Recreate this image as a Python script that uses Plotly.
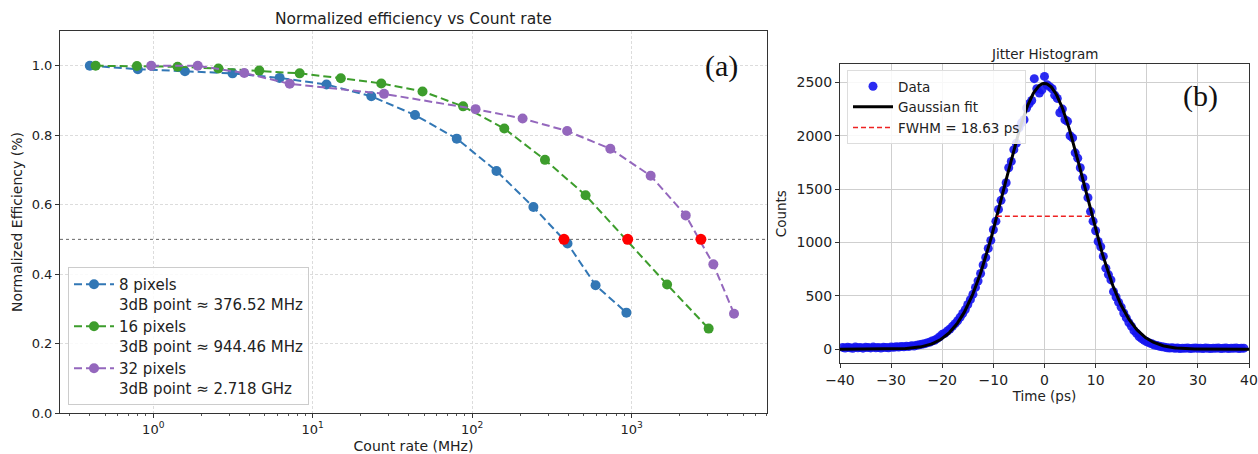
import math
import plotly.graph_objects as go

# ---------------- Panel (a) data ----------------
rate_8 = [0.40, 0.80, 1.58, 3.14, 6.2, 12.2, 23.3, 43.8, 80, 142, 242, 396, 594, 927]
eff_8 = [1.0, 0.990, 0.984, 0.978, 0.965, 0.946, 0.912, 0.858, 0.790, 0.697, 0.593, 0.488, 0.368, 0.289]

rate_16 = [0.435, 0.79, 1.42, 2.56, 4.62, 8.28, 15.0, 26.9, 48.8, 87.7, 159, 286, 514, 1668, 3040]
eff_16 = [1.0, 0.999, 0.997, 0.992, 0.986, 0.978, 0.964, 0.949, 0.926, 0.883, 0.819, 0.729, 0.627, 0.370, 0.243]

rate_32 = [0.97, 1.90, 3.72, 7.17, 28, 105, 207, 394, 735, 1316, 2183, 3253, 4385]
eff_32 = [1.0, 1.0, 0.979, 0.948, 0.919, 0.875, 0.848, 0.812, 0.761, 0.683, 0.569, 0.428, 0.286]

db3_rates = [376.52, 944.46, 2718.0]
db3_eff = [0.5, 0.5, 0.5]

labels_a = ["8 pixels<br>3dB point ≈ 376.52 MHz",
            "16 pixels<br>3dB point ≈ 944.46 MHz",
            "32 pixels<br>3dB point ≈ 2.718 GHz"]
x_tickvals = [1, 10, 100, 1000]
x_ticktext = ["10<sup>0</sup>", "10<sup>1</sup>", "10<sup>2</sup>", "10<sup>3</sup>"]
x_minor_decades = [0.1, 1, 10, 100, 1000]
x_minor_digits = [2, 3, 4, 5, 6, 7, 8, 9]
y_tickvals_a = [0.0, 0.2, 0.4, 0.6, 0.8, 1.0]

# ---------------- Panel (b) data ----------------
time_start = -39.5
time_step = 0.5
counts = [
    # -39.5 .. -30.0
    18, 12, 20, 15, 9, 22, 14, 17, 11, 19, 16, 13, 21, 15, 18, 12, 20, 17, 14, 22,
    # -29.5 .. -25.0
    19, 24, 21, 26, 23, 29, 27, 33, 31, 38,
    # -24.5 .. -20.0
    42, 47, 52, 60, 66, 78, 85, 100, 118, 140,
    # -19.5 .. -15.0
    150, 172, 190, 215, 240, 268, 300, 335, 372, 420,
    # -14.5 .. -10.0
    465, 515, 580, 640, 710, 790, 860, 945, 1020, 1120,
    # -9.5 .. -5.0
    1200, 1310, 1395, 1490, 1560, 1700, 1760, 1870, 1930, 2075,
    # -4.5 .. -0.5
    2120, 2150, 2260, 2300, 2330, 2535, 2440, 2400, 2430,
    # 0.0 .. 4.5
    2556, 2478, 2460, 2440, 2380, 2350, 2215, 2250, 2150, 2135,
    # 5.0 .. 9.5
    2000, 1980, 1840, 1790, 1700, 1605, 1520, 1420, 1290, 1200,
    # 10.0 .. 14.5
    1110, 1010, 960, 870, 760, 700, 650, 540, 490, 440,
    # 15.0 .. 19.5
    395, 340, 295, 250, 215, 175, 150, 120, 100, 85,
    # 20.0 .. 24.5
    70, 60, 52, 40, 35, 28, 24, 20, 15, 12,
    # 25.0 .. 29.5
    14, 10, 12, 8, 11, 9, 13, 7, 10, 12,
    # 30.0 .. 34.5
    9, 11, 8, 12, 10, 7, 11, 9, 13, 8,
    # 35.0 .. 39.0
    10, 12, 7, 11, 9, 13, 8, 10, 11,
]
times = [time_start + time_step * i for i in range(len(counts))]

fit_amplitude = 2490.0
fit_center = 0.0
fwhm = 18.63
fit_times = [-40 + 0.2 * i for i in range(401)]

# ---------------- Figure ----------------
fig = go.Figure()

colors_a = ["#3277b5", "#3d9d2c", "#9467bd"]
for rx, ey, lab, col in zip([rate_8, rate_16, rate_32], [eff_8, eff_16, eff_32], labels_a, colors_a):
    fig.add_trace(go.Scatter(
        x=rx, y=ey, mode="lines+markers", name=lab,
        line=dict(color=col, width=2, dash="8px,4px"),
        marker=dict(color=col, size=10),
        xaxis="x", yaxis="y", legend="legend"))

fig.add_trace(go.Scatter(
    x=db3_rates, y=db3_eff, mode="markers", showlegend=False,
    marker=dict(color="#ff0000", size=11), xaxis="x", yaxis="y"))

fit_sigma = fwhm / (2 * math.sqrt(2 * math.log(2)))
fit_counts = [fit_amplitude * math.exp(-((t - fit_center) ** 2) / (2 * fit_sigma ** 2)) for t in fit_times]

fig.add_trace(go.Scatter(
    x=times, y=counts, mode="markers", name="Data",
    marker=dict(color="rgba(20,20,240,0.9)", size=9),
    xaxis="x2", yaxis="y2", legend="legend2"))
fig.add_trace(go.Scatter(
    x=fit_times, y=fit_counts, mode="lines", name="Gaussian fit",
    line=dict(color="black", width=3),
    xaxis="x2", yaxis="y2", legend="legend2"))
fig.add_trace(go.Scatter(
    x=[fit_center - fwhm / 2, fit_center + fwhm / 2],
    y=[fit_amplitude / 2, fit_amplitude / 2],
    mode="lines", name=f"FWHM = {fwhm:.2f} ps",
    line=dict(color="#ee2222", width=1.5, dash="5px,3px"),
    xaxis="x2", yaxis="y2", legend="legend2"))

W, H = 1258, 454
font_main = "DejaVu Sans"


def axis_common(size):
    return dict(showline=True, linecolor="#333333", linewidth=1, mirror=True,
                ticks="outside", ticklen=4, tickcolor="#333333", zeroline=False,
                automargin=False,
                tickfont=dict(family=font_main, size=size, color="#222"))


minor_vals = [d * m for d in x_minor_decades for m in x_minor_digits]

fig.update_layout(
    width=W, height=H,
    margin=dict(l=0, r=0, t=0, b=0),
    paper_bgcolor="white", plot_bgcolor="white",
    font=dict(family=font_main, color="#222"),
    xaxis=dict(domain=[60 / W, 767 / W], type="log",
               range=[math.log10(0.26), math.log10(7060)],
               tickvals=x_tickvals, ticktext=x_ticktext,
               showgrid=True, gridcolor="#dcdcdc", griddash="3px,2px", gridwidth=1,
               minor=dict(tickmode="array", tickvals=minor_vals, ticks="outside",
                          ticklen=2, tickcolor="#555", showgrid=False),
               title=dict(text="Count rate (MHz)", font=dict(size=14), standoff=6),
               anchor="y", **axis_common(13)),
    yaxis=dict(domain=[1 - 413 / H, 1 - 31 / H], range=[0, 1.1],
               tickvals=y_tickvals_a, tickformat=".1f",
               showgrid=True, gridcolor="#dcdcdc", griddash="3px,2px", gridwidth=1,
               title=dict(text="Normalized Efficiency (%)", font=dict(size=14), standoff=5),
               anchor="x", **axis_common(13)),
    xaxis2=dict(domain=[840 / W, 1249 / W], range=[-40, 40],
                tickvals=[-40, -30, -20, -10, 0, 10, 20, 30, 40],
                showgrid=True, gridcolor="#cfcfcf", gridwidth=1,
                title=dict(text="Time (ps)", font=dict(size=13.5), standoff=4),
                anchor="y2", **axis_common(14)),
    yaxis2=dict(domain=[1 - 363.3 / H, 1 - 64 / H], range=[-131, 2672],
                tickvals=[0, 500, 1000, 1500, 2000, 2500],
                showgrid=True, gridcolor="#cfcfcf", gridwidth=1,
                title=dict(text="Counts", font=dict(size=13.5), standoff=6),
                anchor="x2", **axis_common(14)),
    legend=dict(x=68 / W, y=1 - 405 / H, xanchor="left", yanchor="bottom",
                bgcolor="rgba(255,255,255,0.85)", bordercolor="#cccccc", borderwidth=1,
                font=dict(size=15, family=font_main), valign="top",
                tracegroupgap=0, itemwidth=40),
    legend2=dict(x=847 / W, y=1 - 70 / H, xanchor="left", yanchor="top",
                 bgcolor="rgba(255,255,255,0.85)", bordercolor="#dddddd", borderwidth=1,
                 font=dict(size=13.5, family=font_main), itemwidth=40),
    showlegend=True,
)

fig.add_shape(type="line", xref="x domain", yref="y", x0=0, x1=1, y0=0.5, y1=0.5,
              line=dict(color="#666666", width=1, dash="dot"), layer="below")

fig.add_annotation(text="Normalized efficiency vs Count rate", xref="paper", yref="paper",
                   x=(60 + 767) / 2 / W, y=1 - 19 / H, showarrow=False,
                   xanchor="center", yanchor="middle",
                   font=dict(size=15.5, family=font_main, color="#222"))
fig.add_annotation(text="Jitter Histogram", xref="paper", yref="paper",
                   x=(840 + 1249) / 2 / W, y=1 - 54 / H, showarrow=False,
                   xanchor="center", yanchor="middle",
                   font=dict(size=13.5, family=font_main, color="#222"))
fig.add_annotation(text="(a)", xref="paper", yref="paper",
                   x=721 / W, y=1 - 66 / H, showarrow=False,
                   xanchor="center", yanchor="middle",
                   font=dict(size=30, family="Liberation Serif", color="#111"))
fig.add_annotation(text="(b)", xref="paper", yref="paper",
                   x=1200 / W, y=1 - 96 / H, showarrow=False,
                   xanchor="center", yanchor="middle",
                   font=dict(size=30, family="Liberation Serif", color="#111"))

fig.write_html("out.html", config={"displayModeBar": False},
               post_script="document.body.style.margin='0';document.body.style.overflow='hidden';")
